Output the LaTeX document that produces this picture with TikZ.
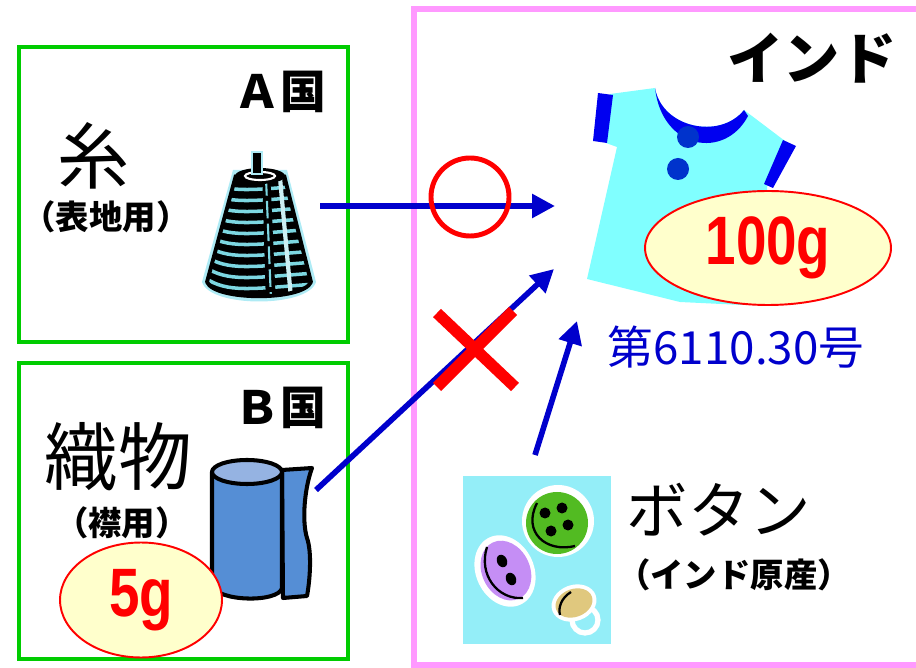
\documentclass[tikz,border=0pt]{standalone}
\usepackage{fontspec}
\usetikzlibrary{arrows.meta,shapes.geometric}

\newfontfamily\jp{Noto Sans CJK JP}
\newfontfamily\wtfont{Liberation Sans}[FakeStretch=0.8]
\newcommand{\fsz}[1]{\fontsize{#1}{#1}\selectfont}

\definecolor{boxgreen}{RGB}{0,204,0}
\definecolor{boxpink}{RGB}{255,153,255}
\definecolor{flowblue}{RGB}{0,0,204}
\definecolor{tagfill}{RGB}{255,255,204}
\definecolor{shirtcyan}{RGB}{128,255,255}
\definecolor{trimblue}{RGB}{0,0,240}
\definecolor{dotblue}{RGB}{0,51,204}
\definecolor{clothblue}{RGB}{85,142,213}
\definecolor{clothtop}{RGB}{149,179,226}
\definecolor{tilecyan}{RGB}{148,238,248}
\definecolor{btngreen}{RGB}{82,187,34}
\definecolor{btnpurple}{RGB}{197,142,245}
\definecolor{btntan}{RGB}{224,200,126}
\definecolor{threadcyan}{RGB}{125,215,225}
\definecolor{halocyan}{RGB}{175,235,245}

\tikzset{
  country/.style={draw=boxgreen, line width=2.2pt},
  india/.style={draw=boxpink, line width=3pt},
  flow/.style={flowblue, line width=3.2pt, -{Triangle[length=13pt,width=13pt]}},
  tag/.style={ellipse, draw=red, line width=1.1pt, fill=tagfill, inner sep=0pt,
    text=red, font=\wtfont\bfseries\fsz{39pt}},
  label/.style={font=\jp, inner sep=0pt},
}

\begin{document}
\begin{tikzpicture}[x=0.02cm, y=-0.02cm]
	\useasboundingbox (0,0) rectangle (916,668);
	% frames
	\draw[country] (19,47) rectangle (348,342);
	\draw[country] (19,363) rectangle (348,659);
	\draw[india] (414,9) rectangle (940,665);

	% A country: yarn
	\node[label, font=\jp\bfseries\fsz{26pt}] (acountry) at (280,92) {Ａ国};
	\node[label, font=\jp\fsz{41pt}] (yarnname) at (94,156) {糸};
	\node[label, font=\jp\bfseries\fsz{19pt}] (yarnuse) at (106,217) {（表地用）};
	% thread cone
	\fill[halocyan] (233,170) -- (202,282) .. controls (210,308) and (308,308) .. (316,282) -- (287,170) -- cycle;
	\begin{scope}
		\clip (236,175) -- (207,282) .. controls (215,301) and (303,301) .. (311,282) -- (284,175) -- cycle;
		\fill (200,160) rectangle (320,310);
		\foreach \y in {188,199,...,290}
			\draw[threadcyan, line width=2pt] (205,\y-9) .. controls (228,\y+6) and (250,\y+2) .. (315,\y-3);
		\fill (262,170) -- (270,170) -- (276,305) -- (266,305) -- cycle;
		\draw[threadcyan, line width=1.2pt, dash pattern=on 10pt off 3pt] (266,178) -- (271,300);
		\draw[white!60!threadcyan, line width=2.4pt] (280,178) -- (291,298);
	\end{scope}
	\draw[line width=2.2pt, line join=round] (236,175) -- (207,282) .. controls (215,301) and (303,301) .. (311,282) -- (284,175);
	\fill (260,176) ellipse [x radius=25, y radius=8];
	\draw[white, line width=1.2pt] (260,176) ellipse [x radius=15, y radius=4];
	\filldraw[fill=black, draw=halocyan, line width=0.8pt] (252,152) rectangle (262,174);
	\coordinate (yarn) at (320,206);

	% B country: woven cloth
	\node[label, font=\jp\bfseries\fsz{26pt}] (bcountry) at (280,408) {Ｂ国};
	\node[label, font=\jp\fsz{42pt}] (clothname) at (118,457) {織物};
	\node[label, font=\jp\bfseries\fsz{19pt}] (clothuse) at (122,523) {（襟用）};
	% cloth roll
	\begin{scope}[line width=2.3pt, line join=round]
		\filldraw[fill=clothblue] (282,470) -- (312,468) .. controls (304,490) and (302,522) .. (307,538)
			.. controls (312,552) and (310,580) .. (307,596) -- (283,598) -- cycle;
		\filldraw[fill=clothblue] (212,472) -- (212,585) .. controls (216,602) and (279,603) .. (282,588) -- (282,472) -- cycle;
		\filldraw[fill=clothtop] (247,472) ellipse [x radius=35, y radius=12];
	\end{scope}
	\coordinate (cloth) at (316,490);
	\node[tag, minimum width=3.24cm, minimum height=2.3cm] (wt5) at (141,600) {5g};

	% India: shirt
	\node[label, font=\jp\bfseries\fsz{32pt}] (india) at (812,58) {インド};
	\fill[shirtcyan] (610,94) -- (655,88) .. controls (662,128) and (720,140) .. (744,110)
		-- (785,141) -- (767,187) -- (770,292) -- (742,305) -- (680,302) -- (587,279)
		-- (617,147) -- (606,143) -- cycle;
	\fill[trimblue] (655,88) .. controls (662,128) and (720,140) .. (744,110)
		-- (748,116) .. controls (725,160) and (662,150) .. (655,88) -- cycle;
	\fill[trimblue] (598,93) -- (613,95) -- (607,143) -- (593,141) -- cycle;
	\fill[trimblue] (783,140) -- (796,146) -- (773,188) -- (764,184) -- cycle;
	\fill[dotblue] (688,137) circle [radius=11];
	\fill[dotblue] (678,169) circle [radius=11];
	\node[tag, minimum width=4.92cm, minimum height=2.28cm] (wt100) at (768,248) {100g};
	\node[label, font=\jp\fsz{26pt}, text=flowblue] (hscode) at (736,347) {第6110.30号};
	\coordinate (shirtL) at (555,206);
	\coordinate (shirtLL) at (554,269);
	\coordinate (shirtB) at (577,321);

	% buttons
	\fill[tilecyan] (463,476) rectangle (611,644);
	\fill[white] (558,521) circle [radius=36];
	\fill[btngreen] (557,523) circle [radius=31];
	\draw[line width=1.3pt] (537,503) .. controls (522,532) and (546,553) .. (575,546);
	\foreach \p in {(545,513),(562,508),(551,531),(568,525)}
		\fill \p circle [radius=5.5];
	\fill[white, rotate around={25:(505,571)}] (505,571) ellipse [x radius=29, y radius=37];
	\fill[btnpurple, rotate around={25:(505,571)}] (506,571) ellipse [x radius=24, y radius=31];
	\draw[line width=1.3pt] (487,547) .. controls (478,575) and (498,600) .. (523,598);
	\fill[rotate around={25:(502,561)}] (502,561) ellipse [x radius=5, y radius=6.5];
	\fill[rotate around={25:(511,579)}] (511,579) ellipse [x radius=5, y radius=6.5];
	\draw[white, line width=3pt] (585,620) circle [radius=13];
	\fill[white, rotate around={20:(574,603)}] (574,603) ellipse [x radius=23, y radius=18];
	\fill[btntan, rotate around={20:(574,603)}] (574,603) ellipse [x radius=19, y radius=14];
	\draw[line width=1.3pt] (571,592) .. controls (561,598) and (558,608) .. (560,615);
	\node[label, font=\jp\fsz{35pt}] (button) at (719,510) {ボタン};
	\node[label, font=\jp\bfseries\fsz{19pt}] (buttonorigin) at (734,575) {（インド原産）};
	\coordinate (btn) at (535,455);

	% flows into the shirt
	\draw[flow] (yarn) -- (shirtL);
	\draw[flow] (cloth) -- (shirtLL);
	\draw[flow] (btn) -- (shirtB);
	% marks
	\draw[red, line width=2.8pt] (470,197) circle [radius=39];
	\coordinate (ngc) at (476,350);
	\draw[red, line width=6.5pt] (ngc) ++(-39,-37) -- ++(78,74);
	\draw[red, line width=6.5pt] (ngc) ++(37,-39) -- ++(-76,76);
\end{tikzpicture}
\end{document}
